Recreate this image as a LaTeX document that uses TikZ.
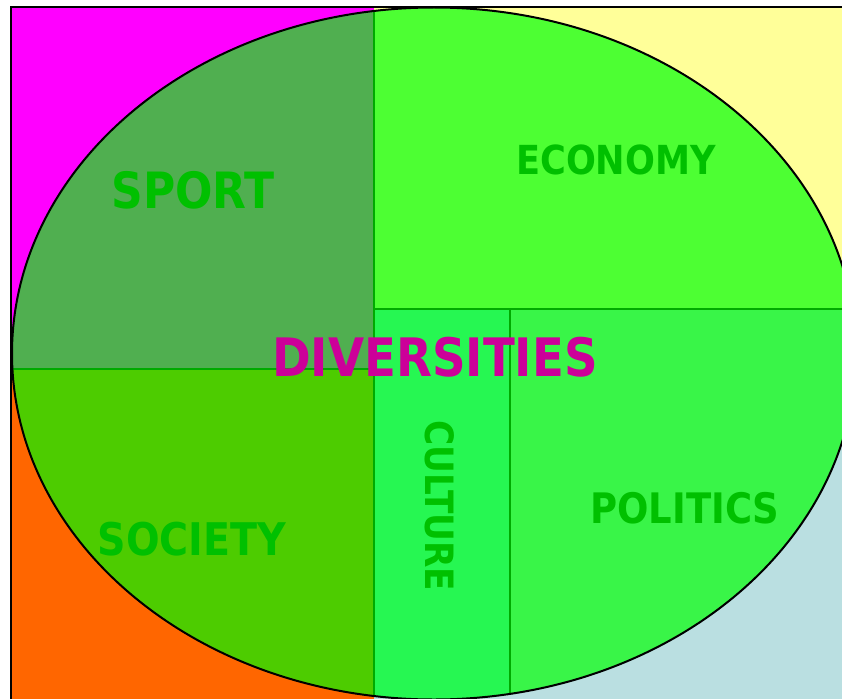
\documentclass[tikz,border=0pt]{standalone}
\usepackage{fontspec}
\setmainfont{DejaVu Sans}
\usepackage{tikz}

\definecolor{bgmag}{HTML}{FF00FF}
\definecolor{bgyel}{HTML}{FFFF99}
\definecolor{bgora}{HTML}{FF6600}
\definecolor{bgblu}{HTML}{BADFE1}
\definecolor{sportgr}{HTML}{50AF50}
\definecolor{econgr}{HTML}{4DFF33}
\definecolor{socgr}{HTML}{4DCC00}
\definecolor{culgr}{HTML}{26F752}
\definecolor{polgr}{HTML}{39F548}
\definecolor{linegr}{HTML}{00AA00}
\definecolor{textgr}{HTML}{00C000}
\definecolor{divmag}{HTML}{CC0099}

\newcommand{\lbltext}[2]{\scalebox{0.88}[1]{\fontsize{#1}{#1}\selectfont\bfseries #2}}

\begin{document}
\begin{tikzpicture}[x=1pt, y=-1pt,
    part/.style={draw=linegr, line width=2pt},
    lbl/.style={inner sep=0pt, text=textgr}]
  \useasboundingbox (0,0) rectangle (842,698);
  \clip (0,0) rectangle (842,698);

  % background corners
  \fill[bgmag] (11,7) rectangle (374,369);
  \fill[bgyel] (374,7) rectangle (860,309);
  \fill[bgora] (11,369) rectangle (374,705);
  \fill[bgblu] (374,309) rectangle (860,705);
  \draw[line width=2pt] (11,7) rectangle (856,720);

  % the five parts inside the ellipse
  \begin{scope}
    \clip (434,353.5) ellipse (422 and 346);
    \fill[sportgr] (11,7) rectangle (374,369);
    \fill[econgr] (374,7) rectangle (860,309);
    \fill[socgr] (11,369) rectangle (374,705);
    \fill[culgr] (374,309) rectangle (510,705);
    \fill[polgr] (510,309) rectangle (860,705);
    \draw[part] (374,0) -- (374,705);
    \draw[part] (11,369) -- (374,369);
    \draw[part] (374,309) -- (860,309);
    \draw[part] (510,309) -- (510,705);
  \end{scope}
  \draw[line width=2pt] (434,353.5) ellipse (422 and 346);

  % labels
  \node[lbl] (sport) at (193,190) {\lbltext{50}{SPORT}};
  \node[lbl] (economy) at (616,160) {\lbltext{40}{ECONOMY}};
  \node[lbl] (society) at (192,539) {\lbltext{45}{SOCIETY}};
  \node[lbl] (politics) at (685,508) {\lbltext{42}{POLITICS}};
  \node[lbl, rotate=-90] (culture) at (440,506) {\lbltext{39}{CULTURE}};
  \node[lbl, text=divmag] (diversities) at (435,357) {\lbltext{53}{DIVERSITIES}};
\end{tikzpicture}
\end{document}
